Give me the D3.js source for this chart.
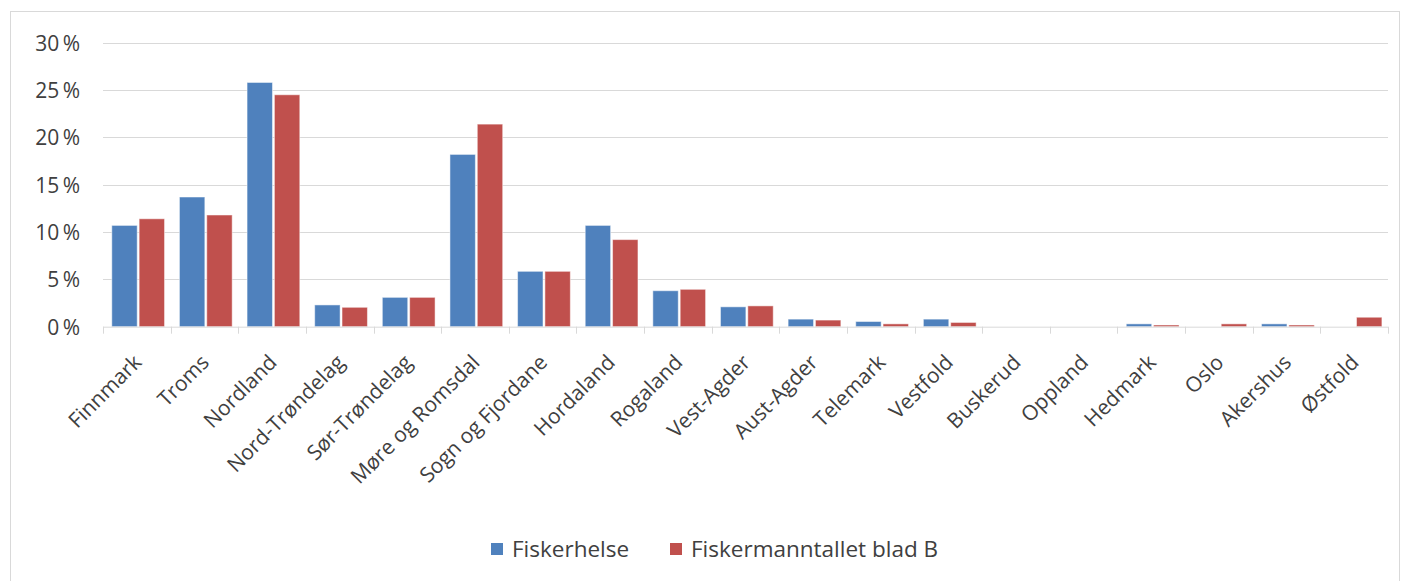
<!DOCTYPE html>
<html><head><meta charset="utf-8">
<script src="https://cdn.jsdelivr.net/npm/d3@7"></script>
<style>body{margin:0;background:#fff}svg{display:block}text{font-family:"Open Sans",sans-serif;fill:#404040}</style>
</head><body><svg id="c" width="1405" height="581"></svg>
<script>
const categories = ["Finnmark","Troms","Nordland","Nord-Trøndelag","Sør-Trøndelag","Møre og Romsdal","Sogn og Fjordane","Hordaland","Rogaland","Vest-Agder","Aust-Agder","Telemark","Vestfold","Buskerud","Oppland","Hedmark","Oslo","Akershus","Østfold"];
const seriesNames = ["Fiskerhelse","Fiskermanntallet blad B"];
const fiskerhelse = [10.7,13.7,25.8,2.3,3.1,18.2,5.85,10.7,3.8,2.1,0.8,0.55,0.8,0,0,0.3,0,0.3,0];
const bladB = [11.4,11.8,24.5,2.05,3.1,21.4,5.85,9.2,3.95,2.2,0.7,0.3,0.45,0,0,0.18,0.3,0.18,1.0];
const yTicks = [0,5,10,15,20,25,30];
const colors = ["#4F81BD","#C0504D"];

const FONT = "'Open Sans',sans-serif";
const svg = d3.select("#c");
svg.append("rect").attr("x",10.5).attr("y",11.5).attr("width",1389).attr("height",580).attr("fill","none").attr("stroke","#D9D9D9");

const pLeft=103, pRight=1388, pTop=42.7, pBottom=326.7;
const y = d3.scaleLinear().domain([0,30]).range([pBottom,pTop]);
const x0 = d3.scaleBand().domain(categories).range([pLeft,pRight]);
const bw = x0.bandwidth();
const x1 = d3.scaleBand().domain(seriesNames).range([bw*0.13,bw*0.91]).paddingInner(0.07);

// gridlines
svg.append("g").selectAll("line").data(yTicks.filter(d=>d>0)).join("line")
  .attr("x1",pLeft).attr("x2",pRight).attr("y1",d=>Math.round(y(d))+0.5).attr("y2",d=>Math.round(y(d))+0.5)
  .attr("stroke","#D9D9D9").attr("stroke-width",1);

// y labels
const yAxis = d3.axisLeft(y).tickValues(yTicks).tickFormat(d=>d+"\u2009%").tickSize(0).tickPadding(0);
const ga = svg.append("g").attr("transform","translate(80,0)").call(yAxis);
ga.select(".domain").remove();
ga.selectAll("text").attr("font-size",21).attr("fill","#404040").style("font-family",FONT).attr("dy","0.35em");

// bars
const data = categories.map((c,i)=>({c, vals:[fiskerhelse[i],bladB[i]]}));
const g = svg.append("g");
g.selectAll("g").data(data).join("g").attr("transform",d=>`translate(${x0(d.c)},0)`)
 .selectAll("rect").data(d=>d.vals.map((v,j)=>({v,s:seriesNames[j],j})).filter(e=>e.v>0)).join("rect")
 .attr("x",e=>x1(e.s)).attr("width",x1.bandwidth())
 .attr("y",e=>y(e.v)).attr("height",e=>pBottom-y(e.v))
 .attr("fill",e=>colors[e.j]).attr("stroke","#ffffff").attr("stroke-opacity",0.5).attr("stroke-width",1);

// x axis
const xAxis = d3.axisBottom(x0).tickSize(0).tickPadding(0);
const gx = svg.append("g").attr("transform",`translate(0,${pBottom})`).call(xAxis);
gx.select(".domain").attr("stroke","#D9D9D9").attr("d",`M${pLeft},0.5H${pRight}`);
gx.selectAll(".tick text").attr("font-size",21).attr("fill","#404040").style("font-family",FONT)
  .attr("text-anchor","end").attr("dy",0).attr("transform","translate(6,37) rotate(-45)");
// boundary ticks
svg.append("g").selectAll("line").data(categories.concat(["_end"])).join("line")
  .attr("x1",(d,i)=>Math.round(pLeft+i*bw)+0.5).attr("x2",(d,i)=>Math.round(pLeft+i*bw)+0.5)
  .attr("y1",pBottom).attr("y2",pBottom+7).attr("stroke","#D9D9D9");

// legend
const leg = svg.append("g");
const legX = [491,670];
seriesNames.forEach((s,i)=>{
  leg.append("rect").attr("x",legX[i]).attr("y",543).attr("width",12).attr("height",12).attr("fill",colors[i]);
  leg.append("text").attr("x",legX[i]+21).attr("y",557).attr("font-size",22.5).style("font-family",FONT).text(s);
});
</script></body></html>
